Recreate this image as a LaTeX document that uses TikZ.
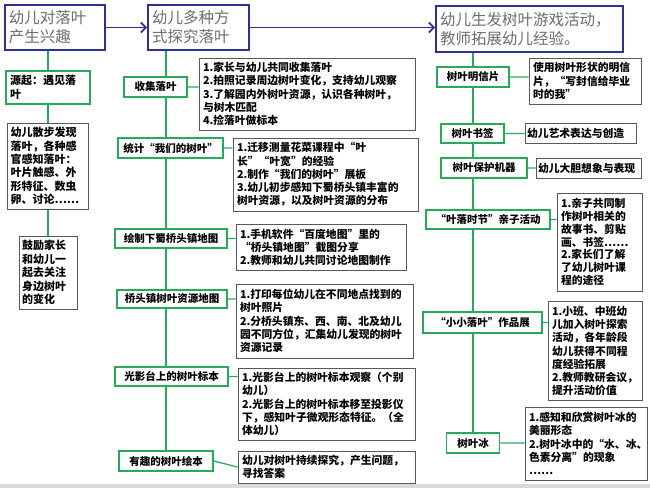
\documentclass[tikz,border=0pt]{standalone}
\usepackage{fontspec}
\setmainfont{Noto Sans CJK SC}
\usepackage{tikz}
\usetikzlibrary{arrows.meta,backgrounds}
\definecolor{phaseblue}{RGB}{46,49,146}
\definecolor{leafgreen}{RGB}{40,170,90}
\definecolor{notegray}{RGB}{89,89,89}
\definecolor{titlegray}{RGB}{110,110,110}
\definecolor{stripgray}{RGB}{217,217,217}

\begin{document}
\begin{tikzpicture}[x=1pt,y=-1pt,
	phase/.style={draw=phaseblue,line width=1.8pt,fill=white,text=titlegray,align=left,inner sep=4pt,font=\fontsize{15.5}{19}\selectfont},
	stage/.style={draw=leafgreen,line width=1.5pt,fill=white,inner sep=2pt,font=\fontsize{10.5}{12}\selectfont\bfseries},
	note/.style={draw=notegray,line width=1pt,fill=white,align=left,inner sep=4pt,font=\fontsize{10.8}{13.3}\selectfont\bfseries},
	branch/.style={draw=leafgreen,line width=1.3pt},
	flow/.style={draw=phaseblue,line width=1.8pt,->,>={Straight Barb[length=5pt,width=10pt]}}]
		\useasboundingbox (0,0) rectangle (650,488);
		\fill[stripgray] (0,484) rectangle (650,488);
		%
		\node[phase,text width=92pt,minimum height=45pt] (interest) at (55,27.5) {幼儿对落叶\\产生兴趣};
		\node[phase,text width=93pt,minimum height=45pt] (explore) at (198.5,27.5) {幼儿多种方\\式探究落叶};
		\node[phase,text width=179pt,minimum height=46pt] (play) at (529.5,29) {幼儿生发树叶游戏活动，\\教师拓展幼儿经验。};
		%
		\node[stage,align=left,text width=76pt,minimum height=33pt,inner sep=4pt,font=\fontsize{11}{13.5}\selectfont\bfseries] (source) at (48,87.5) {源起：遇见落\\叶};
		\node[note,text width=75pt,minimum height=86pt,inner sep=3pt,font=\fontsize{11}{13.3}\selectfont\bfseries] (walk) at (48,166) {幼儿散步发现\\落叶，各种感\\官感知落叶：\\叶片触感、外\\形特征、数虫\\卵、讨论……};
		\node[note,text width=52pt,minimum height=73pt,inner sep=3pt,font=\fontsize{11}{13.5}\selectfont\bfseries] (encourage) at (48,272.5) {鼓励家长\\和幼儿一\\起去关注\\身边树叶\\的变化};
		%
		\node[stage,minimum width=63pt,minimum height=20pt] (collect) at (155.5,87) {收集落叶};
		\node[stage,minimum width=105pt,minimum height=20pt] (count) at (170.5,148) {统计“我们的树叶”};
		\node[stage,minimum width=112pt,minimum height=19pt] (mapdraw) at (171,238.5) {绘制下蜀桥头镇地图};
		\node[stage,minimum width=110pt,minimum height=18pt] (resmap) at (172,299) {桥头镇树叶资源地图};
		\node[stage,minimum width=113pt,minimum height=19pt] (lightbox) at (171.5,376.5) {光影台上的树叶标本};
		\node[stage,minimum width=94pt,minimum height=20pt] (picbook) at (166,461) {有趣的树叶绘本};
		%
		\node[note,text width=208pt,minimum height=72pt] (collectnote) at (307,94) {1.家长与幼儿共同收集落叶\\2.拍照记录周边树叶变化，支持幼儿观察\\3.了解园内外树叶资源，认识各种树叶，\\与树木匹配\\4.捡落叶做标本};
		\node[note,text width=177pt,minimum height=73pt] (countnote) at (325.5,174.5) {1.迁移测量花菜课程中“叶\\长”“叶宽”的经验\\2.制作“我们的树叶”展板\\3.幼儿初步感知下蜀桥头镇丰富的\\树叶资源，以及树叶资源的分布};
		\node[note,text width=162pt,minimum height=45pt] (mapnote) at (321,247.5) {1.手机软件“百度地图”里的\\“桥头镇地图”截图分享\\2.教师和幼儿共同讨论地图制作};
		\node[note,text width=169pt,minimum height=74pt] (resmapnote) at (324.5,321) {1.打印每位幼儿在不同地点找到的\\树叶照片\\2.分桥头镇东、西、南、北及幼儿\\园不同方位，汇集幼儿发现的树叶\\资源记录};
		\node[note,text width=169pt,minimum height=72pt] (lightnote) at (326.5,404) {1.光影台上的树叶标本观察（个别\\幼儿）\\2.光影台上的树叶标本移至投影仪\\下，感知叶子微观形态特征。（全\\体幼儿）};
		\node[note,text width=169pt,minimum height=32pt] (picbooknote) at (326.5,467) {幼儿对树叶持续探究，产生问题，\\寻找答案};
		%
		\node[stage,minimum width=72pt,minimum height=20pt] (postcard) at (473,77) {树叶明信片};
		\node[stage,minimum width=63pt,minimum height=19pt] (bookmark) at (472.5,133.5) {树叶书签};
		\node[stage,minimum width=86pt,minimum height=20pt] (protector) at (484,168) {树叶保护机器};
		\node[stage,minimum width=124pt,minimum height=19pt] (festival) at (488,219.5) {“叶落时节”亲子活动};
		\node[stage,minimum width=119pt,minimum height=21pt] (exhibit) at (482.5,322.5) {“小小落叶”作品展};
		\node[stage,minimum width=53pt,minimum height=20pt] (leafice) at (473,443) {树叶冰};
		%
		\node[note,text width=104pt,minimum height=46pt] (postcardnote) at (585,81) {使用树叶形状的明信\\片，“写封信给毕业\\时的我”};
		\node[note,text width=107pt,minimum height=20pt,inner sep=2pt] (bookmarknote) at (580.5,133) {幼儿艺术表达与创造};
		\node[note,text width=101pt,minimum height=20pt,inner sep=2pt] (protectornote) at (588.5,168) {幼儿大胆想象与表现};
		\node[note,text width=77pt,minimum height=98pt,font=\fontsize{10.8}{12.8}\selectfont\bfseries] (festivalnote) at (599.5,242) {1.亲子共同制\\作树叶相关的\\故事书、剪贴\\画、书签……\\2.家长们了解\\了幼儿树叶课\\程的途径};
		\node[note,text width=86pt,minimum height=98pt] (exhibitnote) at (595,351) {1.小班、中班幼\\儿加入树叶探索\\活动，各年龄段\\幼儿获得不同程\\度经验拓展\\2.教师教研会议，\\提升活动价值};
		\node[note,text width=114pt,minimum height=73pt] (leaficenote) at (586,443.5) {1.感知和欣赏树叶冰的\\美丽形态\\2.树叶冰中的“水、冰、\\色素分离”的现象\\……};
		%
		\draw[flow] (interest) -- (explore);
		\draw[flow] (explore.east) -- (explore.east -| play.west);
		\begin{scope}[on background layer]
		\draw[branch] (interest.south -| source.north) -- (encourage.north);
		\draw[branch] (explore.south -| picbook.north) -- (picbook.north);
		\draw[branch] (play.south -| postcard.north) -- (leafice.north);
		\end{scope}
		\draw[branch]
			(collect.east) -- (collect.east -| collectnote.west)
			(count.east) -- (count.east -| countnote.west)
			(mapdraw.east) -- (mapdraw.east -| mapnote.west)
			(resmap.east) -- (resmap.east -| resmapnote.west)
			(lightbox.east) -- (lightbox.east -| lightnote.west)
			(picbook.east) -- (picbooknote.west)
			(postcard.east) -- (postcard.east -| postcardnote.west)
			(bookmark.east) -- (bookmark.east -| bookmarknote.west)
			(protector.east) -- (protector.east -| protectornote.west)
			(festival.east) -- (festival.east -| festivalnote.west)
			(exhibit.east) -- (exhibit.east -| exhibitnote.west)
			(leafice.east) -- (leafice.east -| leaficenote.west);
	\end{tikzpicture}
\end{document}
